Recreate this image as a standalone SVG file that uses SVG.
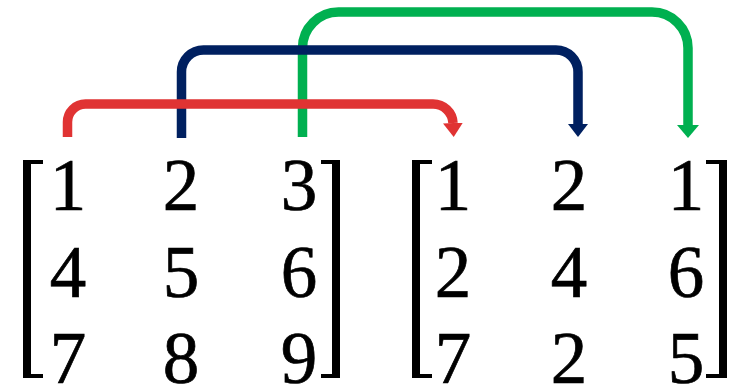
<svg xmlns="http://www.w3.org/2000/svg" width="738" height="384" viewBox="0 0 738 384">
<defs>
<style>
.num{font-family:"Liberation Serif","Times New Roman",serif;font-size:73px;fill:#000;stroke:#000;stroke-width:0.7;text-anchor:middle}
.c{fill:none;stroke-width:9.5;stroke-linecap:butt;stroke-linejoin:round}
</style>
<marker id="ar" markerUnits="userSpaceOnUse" markerWidth="16" markerHeight="24" refX="0" refY="10" orient="auto" viewBox="0 0 16 20"><path d="M0,0 L14,10 L0,20 z" fill="#E03333"/></marker>
<marker id="ab" markerUnits="userSpaceOnUse" markerWidth="16" markerHeight="24" refX="0" refY="10" orient="auto" viewBox="0 0 16 20"><path d="M0,0 L13,10 L0,20 z" fill="#002060"/></marker>
<marker id="ag" markerUnits="userSpaceOnUse" markerWidth="16" markerHeight="26" refX="0" refY="11" orient="auto" viewBox="0 0 16 22"><path d="M0,0 L13,11 L0,22 z" fill="#00B050"/></marker>
</defs>
<g id="connectors">
<path class="c" stroke="#00B050" d="M302.5,137 V48 A36,36 0 0 1 338.5,12 H652 A36,36 0 0 1 688,48 V125" marker-end="url(#ag)"/>
<path class="c" stroke="#002060" d="M181.5,138 V72 A22,22 0 0 1 203.5,50 H556 A22,22 0 0 1 578,72 V124" marker-end="url(#ab)"/>
<path class="c" stroke="#E03333" d="M67.5,137 V122 A18,18 0 0 1 85.5,104 H433 A20,20 0 0 1 453,123" marker-end="url(#ar)"/>
</g>
<g id="matrix-a">
<path fill="#000" d="M23,160 H43 V164 H31 V374 H43 V378 H23 Z"/>
<path fill="#000" d="M340,160 H321 V164 H332 V374 H321 V378 H340 Z"/>
<text class="num" x="68" y="210">1</text>
<text class="num" x="181" y="210">2</text>
<text class="num" x="299" y="210">3</text>
<text class="num" x="68" y="297">4</text>
<text class="num" x="181" y="297">5</text>
<text class="num" x="299" y="297">6</text>
<text class="num" x="68" y="383">7</text>
<text class="num" x="181" y="383">8</text>
<text class="num" x="299" y="383">9</text>
</g>
<g id="matrix-b">
<path fill="#000" d="M412,160 H432 V164 H420 V374 H432 V378 H412 Z"/>
<path fill="#000" d="M727,160 H706 V164 H719 V374 H706 V378 H727 Z"/>
<text class="num" x="453" y="210">1</text>
<text class="num" x="569" y="210">2</text>
<text class="num" x="686" y="210">1</text>
<text class="num" x="453" y="297">2</text>
<text class="num" x="569" y="297">4</text>
<text class="num" x="686" y="297">6</text>
<text class="num" x="453" y="383">7</text>
<text class="num" x="569" y="383">2</text>
<text class="num" x="686" y="383">5</text>
</g>
</svg>
